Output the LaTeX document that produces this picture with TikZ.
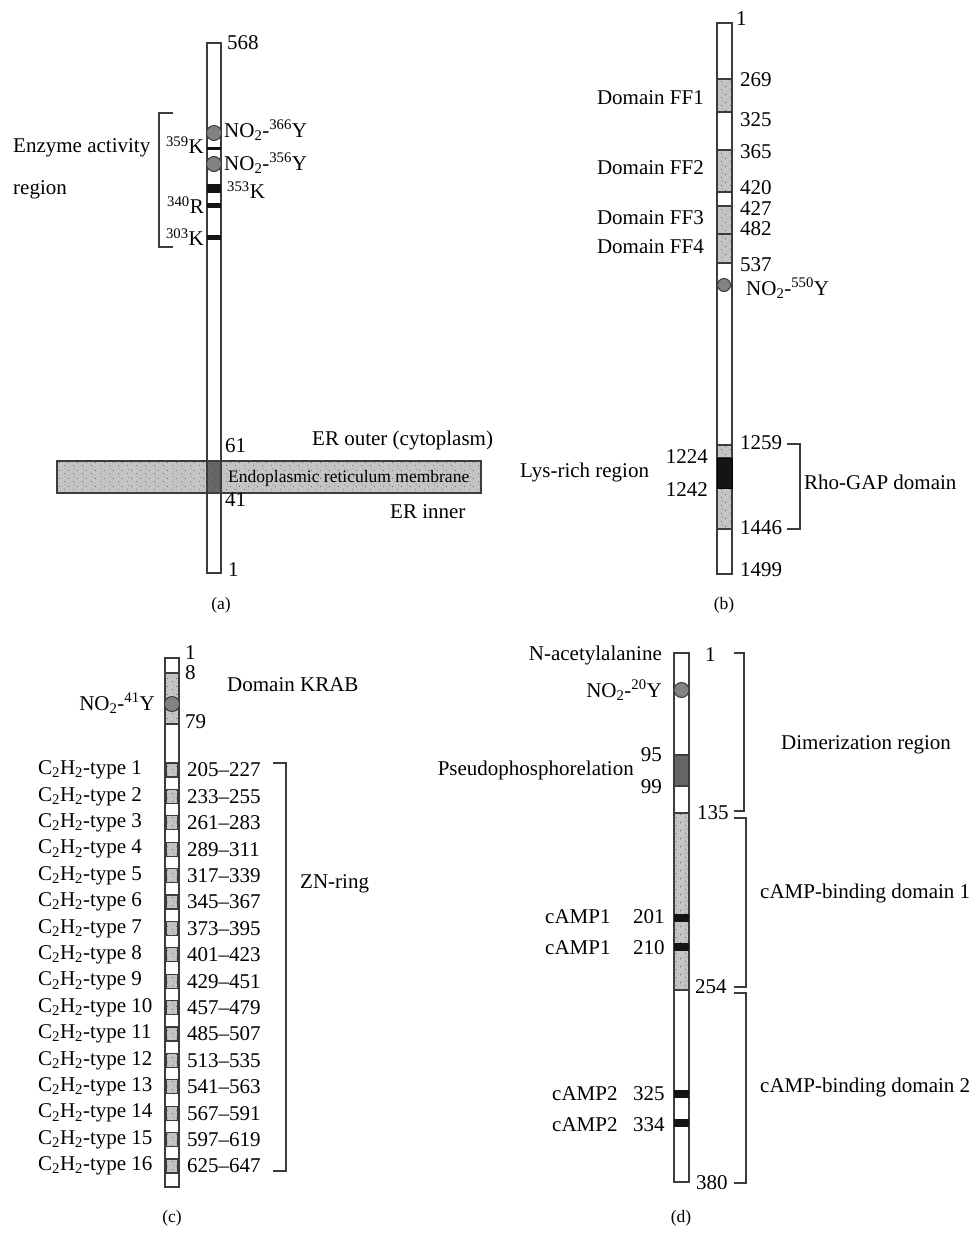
\documentclass[tikz,border=0pt]{standalone}
\usepackage{fontspec}
\setmainfont{Liberation Serif}
\usetikzlibrary{patterns}
\usetikzlibrary{positioning}

\pgfdeclarepatternformonly{stipple}{\pgfqpoint{0pt}{0pt}}{\pgfqpoint{9pt}{8pt}}{\pgfqpoint{9pt}{8pt}}{
    \pgfpathcircle{\pgfqpoint{1.5pt}{1.5pt}}{0.5pt}
    \pgfpathcircle{\pgfqpoint{6pt}{5pt}}{0.5pt}
    \pgfpathcircle{\pgfqpoint{3pt}{6.5pt}}{0.45pt}
    \pgfusepath{fill}
}

\definecolor{stipgray}{RGB}{196,196,196}
\definecolor{linegray}{RGB}{60,60,60}
\definecolor{dotgray}{RGB}{130,130,130}
\definecolor{darkgray}{RGB}{100,100,100}

\tikzset{
    protbar/.style = {draw=linegray, line width=1.2pt, fill=white},
    stipbox/.style = {draw=linegray, line width=1.1pt, fill=stipgray,
        postaction={pattern=stipple, pattern color=black!70}},
    darkbox/.style = {draw=linegray, line width=1.1pt, fill=darkgray,
        postaction={pattern=stipple, pattern color=black!45}},
    band/.style = {fill=black!92},
    nitro/.style = {draw=linegray, line width=1pt, fill=dotgray},
    brk/.style = {draw=linegray, line width=1.1pt},
    lbl/.style = {inner sep=0pt, font=\fontsize{21}{25}\selectfont},
    slbl/.style = {inner sep=0pt, font=\fontsize{17.5}{21}\selectfont},
}

\begin{document}
\begin{tikzpicture}
    [   x = 1pt, y = -1pt
    ]
    \fill[white] (0,0) rectangle (974,1235);
    \useasboundingbox (0,0) rectangle (974,1235);

    % (a)
    \draw[protbar] (207,43) rectangle (221,573);
    \draw[stipbox] (57,461) rectangle (481,493);
    \draw[darkbox] (207,461) rectangle (221,493);
    \node[slbl, anchor = west] (erm) at (228,478) {Endoplasmic reticulum membrane};
    \foreach\y/\r in {133/1,164/2}
    {
        \fill[nitro] (214,\y) circle (7.5);
    }
    \foreach\a/\b in {146.5/149.5,184/193,203/207.5,235/240}
    {
        \fill[band] (207,\a) rectangle (221,\b);
    }
    \node[lbl, anchor = west] (a568) at (227,43) {568};
    \node[lbl, anchor = west] (a61) at (225,446) {61};
    \node[lbl, anchor = west] (a41) at (225,500) {41};
    \node[lbl, anchor = west] (a1) at (228,570) {1};
    \node[lbl, anchor = west] (ny366) at (224,130) {NO\textsubscript{2}-\textsuperscript{366}Y};
    \node[lbl, anchor = west] (ny356) at (224,163) {NO\textsubscript{2}-\textsuperscript{356}Y};
    \node[lbl, anchor = west] (k353) at (227,190) {\textsuperscript{353}K};
    \node[lbl, anchor = east] (k359) at (204,145) {\textsuperscript{359}K};
    \node[lbl, anchor = east] (r340) at (204,205) {\textsuperscript{340}R};
    \node[lbl, anchor = east] (k303) at (204,237) {\textsuperscript{303}K};
    \draw[brk] (173,113) -- (159,113) -- (159,247) -- (173,247);
    \node[lbl, anchor = west] (enz) at (13,148) {Enzyme activity};
    \node[lbl, anchor = west] (enzr) at (13,190) {region};
    \node[lbl, anchor = west] (erout) at (312,440) {ER outer (cytoplasm)};
    \node[lbl, anchor = west] (erin) at (390,512) {ER inner};
    \node[slbl] (capa) at (221,605) {(a)};

    % (b)
    \draw[protbar] (717,23) rectangle (732,574);
    \foreach\a/\b in {79/112,150/192,206/234,234/263,445/458,488/529}
    {
        \draw[stipbox] (717,\a) rectangle (732,\b);
    }
    \draw[band] (717,458) rectangle (732,488);
    \fill[nitro] (724,285) circle (6.5);
    \node[lbl, anchor = west] (b1) at (736,19) {1};
    \foreach\n/\y in {269/80,325/120,365/152,420/188,427/209,482/229,537/265,1259/443,1446/528,1499/570}
    {
        \node[lbl, anchor = west] (b\n) at (740,\y) {\n};
    }
    \foreach\n/\y in {1/98,2/168,3/218,4/247}
    {
        \node[lbl, anchor = east] (ff\n) at (704,\y) {Domain FF\n};
    }
    \node[lbl, anchor = west] (ny550) at (746,288) {NO\textsubscript{2}-\textsuperscript{550}Y};
    \node[lbl, anchor = east] (b1224) at (708,457) {1224};
    \node[lbl, anchor = east] (b1242) at (708,490) {1242};
    \node[lbl, anchor = west] (lys) at (520,472) {Lys-rich region};
    \draw[brk] (787,444) -- (800,444) -- (800,529) -- (787,529);
    \node[lbl, anchor = west] (rho) at (804,482) {Rho-GAP domain};
    \node[slbl] (capb) at (724,605) {(b)};

    % (c)
    \draw[protbar] (165,658) rectangle (179,1187);
    \draw[stipbox] (165,673) rectangle (179,724);
    \fill[nitro] (172,704) circle (7.5);
    \node[lbl, anchor = west] (c1) at (185,653) {1};
    \node[lbl, anchor = west] (c8) at (185,673) {8};
    \node[lbl, anchor = west] (c79) at (185,722) {79};
    \node[lbl, anchor = west] (krab) at (227,685) {Domain KRAB};
    \node[lbl, anchor = east] (ny41) at (155,703) {NO\textsubscript{2}-\textsuperscript{41}Y};
    \foreach\k/\r in {1/205--227,2/233--255,3/261--283,4/289--311,5/317--339,6/345--367,
        7/373--395,8/401--423,9/429--451,10/457--479,11/485--507,12/513--535,
        13/541--563,14/567--591,15/597--619,16/625--647}
    {
        \pgfmathsetmacro\yy{770+(\k-1)*26.4}
        \draw[stipbox] (166.5,{\yy-7}) rectangle (177.5,{\yy+7});
        \node[lbl, anchor = west] (ct\k) at (38,\yy) {C\textsubscript{2}H\textsubscript{2}-type \k};
        \node[lbl, anchor = west] (cr\k) at (187,\yy) {\r};
    }
    \draw[brk] (273,763) -- (286,763) -- (286,1171) -- (273,1171);
    \node[lbl, anchor = west] (zn) at (300,884) {ZN-ring};
    \node[slbl] (capc) at (172,1218) {(c)};

    % (d)
    \draw[protbar] (674,653) rectangle (689,1182);
    \draw[darkbox] (674,755) rectangle (689,786);
    \draw[stipbox] (674,813) rectangle (689,990);
    \fill[nitro] (681.5,690) circle (7.5);
    \foreach\a/\b in {914/922,943/951,1090/1098,1119/1127}
    {
        \fill[band] (674,\a) rectangle (689,\b);
    }
    \node[lbl, anchor = east] (nac) at (662,655) {N-acetylalanine};
    \node[lbl, anchor = east] (ny20) at (662,690) {NO\textsubscript{2}-\textsuperscript{20}Y};
    \node[lbl, anchor = east] (d95) at (662,755) {95};
    \node[lbl, anchor = east] (d99) at (662,787) {99};
    \node[lbl, anchor = east] (pseudo) at (634,770) {Pseudophosphorelation};
    \node[lbl, anchor = west] (d1) at (705,655) {1};
    \node[lbl, anchor = west] (d135) at (697,813) {135};
    \node[lbl, anchor = west] (d254) at (695,987) {254};
    \node[lbl, anchor = west] (d380) at (696,1183) {380};
    \foreach\m/\n/\x/\y in {1/201/545/917,1/210/545/948,2/325/552/1094,2/334/552/1125}
    {
        \node[lbl, anchor = west] (camp\n) at (\x,\y) {cAMP\m};
        \node[lbl, anchor = west] (dn\n) at (633,\y) {\n};
    }
    \draw[brk] (734,653) -- (744,653) -- (744,811) -- (734,811);
    \draw[brk] (734,818) -- (746,818) -- (746,987) -- (734,987);
    \draw[brk] (734,993) -- (746,993) -- (746,1183) -- (734,1183);
    \node[lbl, anchor = west] (dimer) at (781,745) {Dimerization region};
    \node[lbl, anchor = west] (cbd1) at (760,893) {cAMP-binding domain 1};
    \node[lbl, anchor = west] (cbd2) at (760,1087) {cAMP-binding domain 2};
    \node[slbl] (capd) at (681,1218) {(d)};
\end{tikzpicture}
\end{document}
